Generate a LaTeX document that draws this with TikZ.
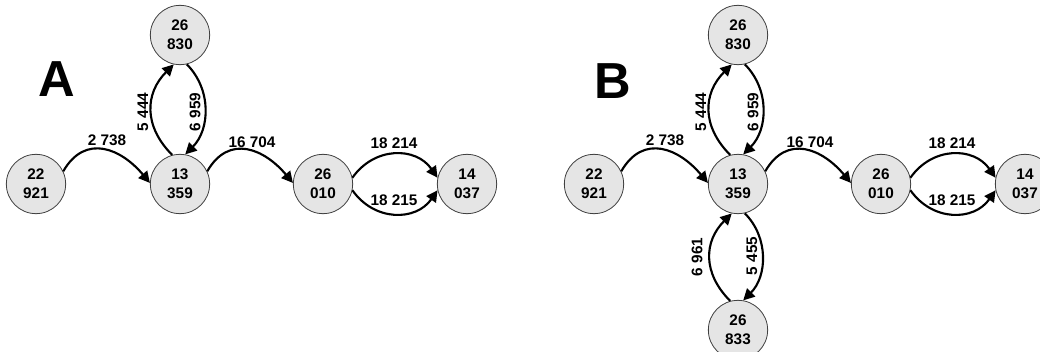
\documentclass[tikz,border=0pt]{standalone}
\usepackage{fontspec}
\setmainfont{Liberation Sans}
\usetikzlibrary{arrows.meta}
\tikzset{
  vert/.style={circle, draw=black!75, line width=0.6pt, fill=black!10, minimum size=44.5pt, inner sep=0pt,
    font=\bfseries\fontsize{11.5}{14}\selectfont, align=center},
  edg/.style={line width=1.6pt, -{Triangle[length=8.5pt,width=8.5pt]}},
  lab/.style={font=\bfseries\fontsize{11.5}{13}\selectfont, inner sep=0pt},
  panel/.style={font=\bfseries\fontsize{38}{42}\selectfont, inner sep=0pt}
}
\begin{document}
\begin{tikzpicture}[x=0.75pt, y=0.75pt]
\useasboundingbox (0,0) rectangle (1040,351);
% ---------- panel A ----------
\node[panel] (LA) at (57,272) {A};
\node[vert] (a22) at (36,167) {22\\921};
\node[vert] (a13) at (180,167) {13\\359};
\node[vert] (a30) at (180,316) {26\\830};
\node[vert] (a26) at (323,167) {26\\010};
\node[vert] (a14) at (467,167) {14\\037};
\draw[edg] (a22.25) to[out=60,in=130,looseness=1.3] (a13.178);
\draw[edg] (a13.25) to[out=60,in=130,looseness=1.3] (a26.178);
\draw[edg] (a26.12) to[out=55,in=125,looseness=1.15] (a14.168);
\draw[edg] (a26.-12) to[out=-55,in=-125,looseness=1.15] (a14.-168);
\draw[edg] (a13.105) to[out=135,in=225,looseness=1.15] (a30.258);
\draw[edg] (a30.283) to[out=-45,in=45,looseness=1.0] (a13.80);
\node[lab] (la1) at (107,211) {2 738};
\node[lab] (la2) at (252,209) {16 704};
\node[lab] (la3) at (394,208) {18 214};
\node[lab] (la4) at (394,151) {18 215};
\node[lab, rotate=90] (la5) at (143,239) {5 444};
\node[lab, rotate=90] (la6) at (195,239) {6 959};
% ---------- panel B ----------
\node[panel] (LB) at (613,270) {B};
\node[vert] (b22) at (594,167) {22\\921};
\node[vert] (b13) at (738,167) {13\\359};
\node[vert] (b30) at (738,316) {26\\830};
\node[vert] (b33) at (738,21) {26\\833};
\node[vert] (b26) at (881,167) {26\\010};
\node[vert] (b14) at (1025,167) {14\\037};
\draw[edg] (b22.25) to[out=60,in=130,looseness=1.3] (b13.178);
\draw[edg] (b13.25) to[out=60,in=130,looseness=1.3] (b26.178);
\draw[edg] (b26.12) to[out=55,in=125,looseness=1.15] (b14.168);
\draw[edg] (b26.-12) to[out=-55,in=-125,looseness=1.15] (b14.-168);
\draw[edg] (b13.105) to[out=135,in=225,looseness=1.15] (b30.258);
\draw[edg] (b30.283) to[out=-45,in=45,looseness=1.0] (b13.80);
\draw[edg] (b33.105) to[out=135,in=225,looseness=1.15] (b13.258);
\draw[edg] (b13.283) to[out=-45,in=45,looseness=1.0] (b33.80);
\node[lab] (lb1) at (665,211) {2 738};
\node[lab] (lb2) at (810,209) {16 704};
\node[lab] (lb3) at (952,208) {18 214};
\node[lab] (lb4) at (952,151) {18 215};
\node[lab, rotate=90] (lb5) at (701,239) {5 444};
\node[lab, rotate=90] (lb6) at (753,239) {6 959};
\node[lab, rotate=90] (lb7) at (697,94) {6 961};
\node[lab, rotate=90] (lb8) at (752,95) {5 455};
\end{tikzpicture}
\end{document}
